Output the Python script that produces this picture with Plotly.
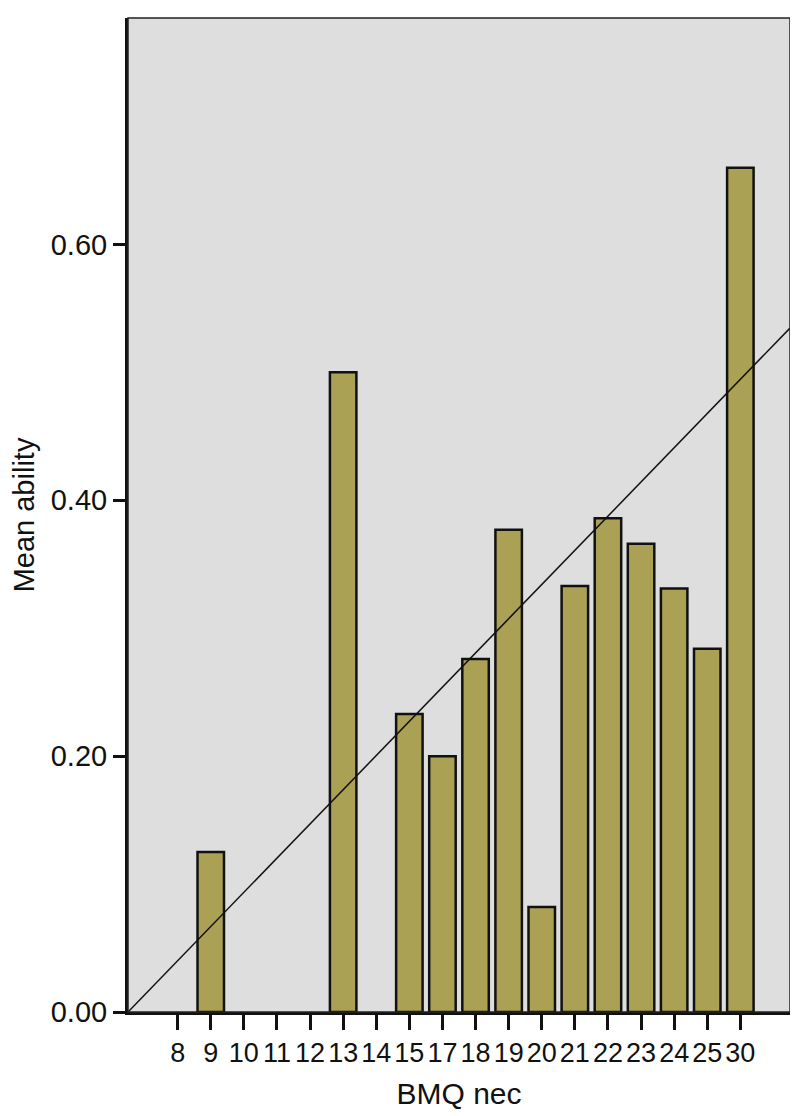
import plotly.graph_objects as go

# Data
categories = ["8", "9", "10", "11", "12", "13", "14", "15", "17", "18",
              "19", "20", "21", "22", "23", "24", "25", "30"]
mean_ability = [None, 0.125, None, None, None, 0.50, None, 0.233, 0.20, 0.276,
                0.377, 0.082, 0.333, 0.386, 0.366, 0.331, 0.284, 0.66]
# Linear fit line (in category-position units)
fit_intercept = 0.0401
fit_slope = 0.02673
y_ticks = [0.0, 0.2, 0.4, 0.6]
y_tick_labels = ["0.00", "0.20", "0.40", "0.60"]

positions = list(range(len(categories)))
x_range = [-1.5, len(categories) + 0.5]
y_range = [0, 0.777]

BAR_COLOR = "#ABA154"
BG = "#DEDEDE"
FONT = "Liberation Sans, Arial, sans-serif"

fig = go.Figure()
fig.add_trace(go.Bar(
    x=positions, y=mean_ability, width=0.8,
    marker=dict(color=BAR_COLOR, line=dict(color="#111111", width=2.5)),
    showlegend=False, hoverinfo="skip"))

fit_x = x_range
fit_y = [fit_intercept + fit_slope * xv for xv in fit_x]
fig.add_trace(go.Scatter(
    x=fit_x, y=fit_y, mode="lines",
    line=dict(color="#111111", width=1.5),
    showlegend=False, hoverinfo="skip", cliponaxis=True))

fig.update_layout(
    width=790, height=1108,
    margin=dict(l=120, r=8, t=10, b=104, autoexpand=False),
    paper_bgcolor="white", plot_bgcolor=BG,
    font=dict(family=FONT, color="#111111"),
    bargap=0.2,
)
fig.update_xaxes(
    range=x_range, tickmode="array", tickvals=positions, ticktext=categories,
    tickfont=dict(size=27, family=FONT), ticks="outside", ticklen=15, tickwidth=3,
    tickcolor="#111111", showgrid=False, zeroline=False, automargin=False,
    showline=True, linecolor="#111111", linewidth=3,
    title=dict(text="BMQ nec", font=dict(size=30, family=FONT), standoff=16),
)
fig.update_yaxes(
    range=y_range, tickmode="array", tickvals=y_ticks, ticktext=y_tick_labels,
    tickfont=dict(size=29, family=FONT), ticks="outside", ticklen=12, tickwidth=3,
    tickcolor="#111111", showgrid=False, zeroline=False, automargin=False,
    showline=True, linecolor="#111111", linewidth=3,
    title=dict(text="Mean ability", font=dict(size=29, family=FONT), standoff=10),
)
# Thin frame on top/right edges
fig.add_shape(type="rect", xref="paper", yref="paper", x0=0, y0=0, x1=1, y1=1,
              line=dict(color="#222222", width=1.5), layer="above")

fig.write_html("out.html")
